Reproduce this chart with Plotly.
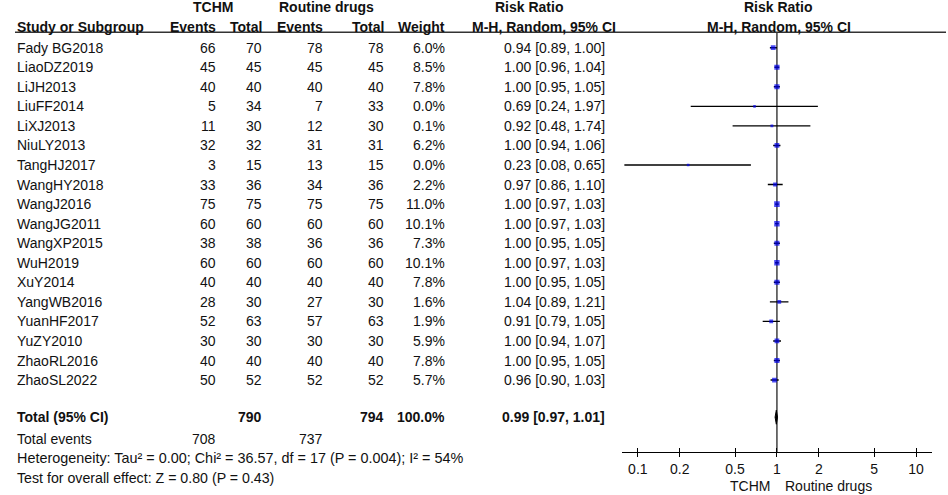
import plotly.graph_objects as go

studies = ["Fady BG2018", "LiaoDZ2019", "LiJH2013", "LiuFF2014", "LiXJ2013", "NiuLY2013",
           "TangHJ2017", "WangHY2018", "WangJ2016", "WangJG2011", "WangXP2015", "WuH2019",
           "XuY2014", "YangWB2016", "YuanHF2017", "YuZY2010", "ZhaoRL2016", "ZhaoSL2022"]
tchm_events = [66, 45, 40, 5, 11, 32, 3, 33, 75, 60, 38, 60, 40, 28, 52, 30, 40, 50]
tchm_total = [70, 45, 40, 34, 30, 32, 15, 36, 75, 60, 38, 60, 40, 30, 63, 30, 40, 52]
rout_events = [78, 45, 40, 7, 12, 31, 13, 34, 75, 60, 36, 60, 40, 27, 57, 30, 40, 52]
rout_total = [78, 45, 40, 33, 30, 31, 15, 36, 75, 60, 36, 60, 40, 30, 63, 30, 40, 52]
weights = [6.0, 8.5, 7.8, 0.0, 0.1, 6.2, 0.0, 2.2, 11.0, 10.1, 7.3, 10.1, 7.8, 1.6, 1.9, 5.9, 7.8, 5.7]
rr = [0.94, 1.00, 1.00, 0.69, 0.92, 1.00, 0.23, 0.97, 1.00, 1.00, 1.00, 1.00, 1.00, 1.04, 0.91, 1.00, 1.00, 0.96]
ci_lo = [0.89, 0.96, 0.95, 0.24, 0.48, 0.94, 0.08, 0.86, 0.97, 0.97, 0.95, 0.97, 0.95, 0.89, 0.79, 0.94, 0.95, 0.90]
ci_hi = [1.00, 1.04, 1.05, 1.97, 1.74, 1.06, 0.65, 1.10, 1.03, 1.03, 1.05, 1.03, 1.05, 1.21, 1.05, 1.07, 1.05, 1.03]

total_tchm = 790
total_rout = 794
total_weight = "100.0%"
events_tchm = 708
events_rout = 737
rr_total = 0.99
lo_total = 0.97
hi_total = 1.01

tick_vals = [0.1, 0.2, 0.5, 1, 2, 5, 10]
tick_text = ["0.1", "0.2", "0.5", "1", "2", "5", "10"]

heterogeneity = "Heterogeneity: Tau² = 0.00; Chi² = 36.57, df = 17 (P = 0.004); I² = 54%"
overall = "Test for overall effect: Z = 0.80 (P = 0.43)"

W, H = 948, 495
FONT = "Liberation Sans, Arial, sans-serif"
FS = 14
ROW0, ROWH = 47.7, 19.55
Y_TOP = -ROW0 / ROWH
Y_BOT = (H - ROW0) / ROWH
AXIS_PX = 452.3
AXIS_ROW = (AXIS_PX - ROW0) / ROWH
TOTAL_ROW = 18.9
HDR_LINE_ROW = (32.3 - ROW0) / ROWH


def px(x):
    return x / W


fig = go.Figure()

# CI lines
xs, ys = [], []
for i in range(len(studies)):
    xs += [ci_lo[i], ci_hi[i], None]
    ys += [i, i, None]
fig.add_trace(go.Scatter(x=xs, y=ys, mode="lines", line=dict(color="black", width=1.4),
                         hoverinfo="skip", showlegend=False, xaxis="x", yaxis="y"))

# study markers
sizes = [2.6 + 0.9 * (w ** 0.5) for w in weights]
fig.add_trace(go.Scatter(x=rr, y=list(range(len(studies))), mode="markers",
                         marker=dict(symbol="square", size=sizes, color="#0000ee",
                                     line=dict(width=0)),
                         showlegend=False, xaxis="x", yaxis="y"))

# total diamond
dh = 0.36
fig.add_trace(go.Scatter(x=[lo_total, rr_total, hi_total, rr_total, lo_total],
                         y=[TOTAL_ROW, TOTAL_ROW - dh, TOTAL_ROW, TOTAL_ROW + dh, TOTAL_ROW],
                         mode="lines", fill="toself", fillcolor="black",
                         line=dict(color="black", width=1), showlegend=False,
                         xaxis="x2", yaxis="y"))

# null line and header rule
shapes = [
    dict(type="line", xref="x", yref="y", x0=1, x1=1, y0=HDR_LINE_ROW, y1=AXIS_ROW,
         layer="below", line=dict(color="#333333", width=1.4)),
    dict(type="line", xref="paper", yref="y", x0=px(15), x1=px(946),
         y0=HDR_LINE_ROW, y1=HDR_LINE_ROW, line=dict(color="#333333", width=1.4)),
]

ann = []


def txt(x, row, s, anchor="right", bold=False, size=FS):
    if bold:
        s = "<b>" + s + "</b>"
    ann.append(dict(x=px(x), y=row, xref="paper", yref="y", text=s, showarrow=False,
                    xanchor=anchor, yanchor="middle",
                    font=dict(family=FONT, size=size, color="#111111")))


# headers
r1 = (7.3 - ROW0) / ROWH
r2 = (26.5 - ROW0) / ROWH
txt(212.5, r1, "TCHM", "center", True)
txt(326.7, r1, "Routine drugs", "center", True)
txt(529, r1, "Risk Ratio", "center", True)
txt(778, r1, "Risk Ratio", "center", True)
txt(15, r2, "Study or Subgroup", "left", True)
txt(218, r2, "Events", "right", True)
txt(264, r2, "Total", "right", True)
txt(325, r2, "Events", "right", True)
txt(386, r2, "Total", "right", True)
txt(447, r2, "Weight", "right", True)
txt(544, r2, "M-H, Random, 95% CI", "center", True)
txt(779, r2, "M-H, Random, 95% CI", "center", True)

for i, s in enumerate(studies):
    txt(15, i, s, "left")
    txt(218, i, str(tchm_events[i]))
    txt(264, i, str(tchm_total[i]))
    txt(325, i, str(rout_events[i]))
    txt(386, i, str(rout_total[i]))
    txt(447, i, f"{weights[i]:.1f}%")
    txt(607, i, f"{rr[i]:.2f} [{ci_lo[i]:.2f}, {ci_hi[i]:.2f}]")

txt(15, TOTAL_ROW, "Total (95% CI)", "left", True)
txt(264, TOTAL_ROW, str(total_tchm), "right", True)
txt(386, TOTAL_ROW, str(total_rout), "right", True)
txt(447, TOTAL_ROW, total_weight, "right", True)
txt(607, TOTAL_ROW, f"{rr_total:.2f} [{lo_total:.2f}, {hi_total:.2f}]", "right", True)
txt(15, 20, "Total events", "left")
txt(218, 20, str(events_tchm))
txt(325, 20, str(events_rout))
txt(15, 21, heterogeneity, "left", size=14.4)
txt(15, 22, overall, "left", size=14.2)

txt(772, (485.7 - ROW0) / ROWH, "TCHM", "right")
txt(783, (485.7 - ROW0) / ROWH, "Routine drugs", "left")

xr = [-1.116, 1.117]
dom = [px(621.7), px(932.3)]
pos = 1 - AXIS_PX / H

fig.update_layout(
    width=W, height=H, margin=dict(l=0, r=0, t=0, b=0),
    paper_bgcolor="white", plot_bgcolor="white",
    shapes=shapes, annotations=ann,
    xaxis=dict(type="log", range=xr, domain=dom, anchor="free", position=pos,
               showline=True, linecolor="black", linewidth=1.3,
               ticks="outside", ticklen=4, tickwidth=1.3, tickcolor="black",
               tickvals=tick_vals, ticktext=tick_text, showgrid=False, zeroline=False,
               tickfont=dict(family=FONT, size=FS, color="#111111")),
    xaxis2=dict(type="log", range=xr, domain=dom, anchor="free", position=pos,
                overlaying="x", showline=False, ticks="inside", ticklen=4, tickwidth=1.3,
                tickcolor="black", tickvals=tick_vals, showticklabels=False,
                showgrid=False, zeroline=False),
    yaxis=dict(range=[Y_BOT, Y_TOP], domain=[0, 1], visible=False, showgrid=False,
               zeroline=False),
    showlegend=False,
)

fig.write_html("out.html", config={"displayModeBar": False},
               post_script="document.body.style.margin='0';document.body.style.overflow='hidden';")
